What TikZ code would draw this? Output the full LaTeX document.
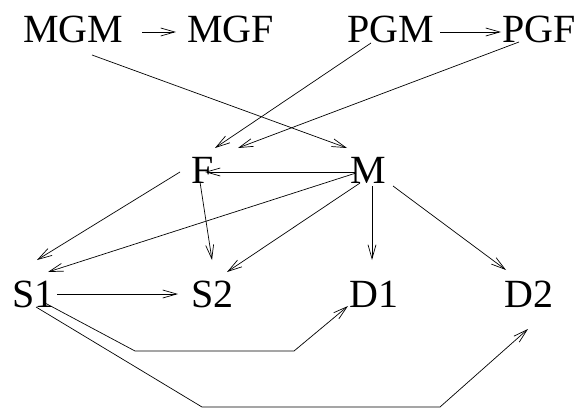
\documentclass[tikz,border=0pt]{standalone}
\usepackage{fontspec}
\setmainfont{Liberation Serif}
\usetikzlibrary{arrows.meta,calc}
\tikzset{
    lbl/.style={inner sep=0pt, anchor=base west, font=\fontsize{40}{40}\selectfont},
    arr/.style={-{Straight Barb[length=14pt,width=8pt]}, line width=0.7pt},
}
\begin{document}
\begin{tikzpicture}[x=1pt, y=-1pt]
    \useasboundingbox (0,0) rectangle (584,412);
    % grandparents
    \node[lbl] (MGM) at (23,43) {MGM};
    \node[lbl] (MGF) at (187,43) {MGF};
    \node[lbl] (PGM) at (347,43) {PGM};
    \node[lbl] (PGF) at (502,43) {PGF};
    % parents
    \node[lbl] (F) at (191,183) {F};
    \node[lbl] (M) at (350,183) {M};
    % children
    \node[lbl] (S1) at (12,307) {S1};
    \node[lbl] (S2) at (191,307) {S2};
    \node[lbl] (D1) at (349,307) {D1};
    \node[lbl] (D2) at (504,307) {D2};

    \draw[arr] ($(MGM.base east)+(19,-11)$) -- ($(MGF.base west)+(-11,-11)$);
    \draw[arr] ($(PGM.base east)+(6,-11)$) -- ($(PGF.base west)+(-1,-11)$);
    \draw[arr] ($(MGM.base west)+(69,12)$) -- ($(M.base west)+(-3,-35)$);
    \draw[arr] ($(PGM.base west)+(24,0)$) -- ($(F.base west)+(24,-35)$);
    \draw[arr] ($(PGF.base west)+(17,-1)$) -- ($(F.base west)+(47,-35)$);
    \draw[arr] ($(M.base west)+(5,-11)$) -- ($(F.base west)+(14,-11)$);
    \draw[arr] ($(F.base west)+(-11,-11)$) -- ($(S1.base west)+(25,-47)$);
    \draw[arr] ($(F.base west)+(9,-1)$) -- ($(S2.base west)+(21,-47)$);
    \draw[arr] ($(M.base west)+(6,-10)$) -- ($(S1.base west)+(36,-35)$);
    \draw[arr] ($(M.base west)+(10,0)$) -- ($(S2.base west)+(36,-35)$);
    \draw[arr] ($(M.base west)+(22,3)$) -- ($(D1.base west)+(23,-47)$);
    \draw[arr] ($(M.base west)+(43,3)$) -- ($(D2.base west)+(2,-37)$);
    \draw[arr] ($(S1.base west)+(45,-13)$) -- ($(S2.base west)+(-13,-13)$);
    \draw[arr] ($(S1.base west)+(33,-4)$) -- ++(90,48) -- ++(159,0) -- ($(D1.base west)+(-1,-1)$);
    \draw[arr] ($(S1.base west)+(24,0)$) -- ++(166,100) -- ++(238,0) -- ($(D2.base west)+(24,22)$);
\end{tikzpicture}
\end{document}
